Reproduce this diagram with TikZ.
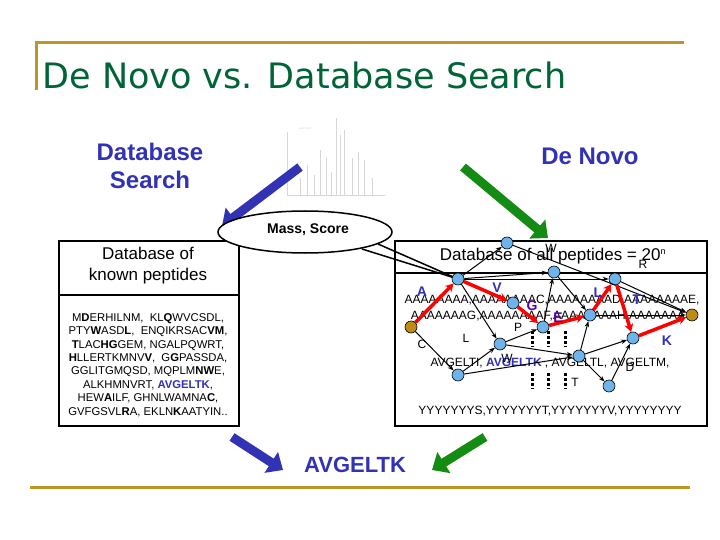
\documentclass[tikz,border=0pt]{standalone}
\usepackage{fontspec}
\setmainfont{Liberation Sans}
\newfontfamily\titlefont{DejaVu Sans}
\usetikzlibrary{arrows.meta}
\definecolor{gold}{RGB}{190,150,40}
\definecolor{tgreen}{RGB}{0,100,55}
\definecolor{dblue}{RGB}{50,50,180}
\definecolor{nblue}{RGB}{110,180,235}
\definecolor{ngold}{RGB}{190,140,20}
\definecolor{agreen}{RGB}{20,140,20}
\definecolor{spec}{RGB}{215,215,215}
\tikzset{
 nd/.style={circle,fill=nblue,draw=black,line width=0.6pt,minimum size=12pt,inner sep=0pt},
 gd/.style={circle,fill=ngold,draw=black,line width=0.6pt,minimum size=12pt,inner sep=0pt},
 bl/.style={draw=black,line width=1pt,-{Stealth[length=6pt]}},
 rd/.style={draw=red,line width=3.5pt,-{Stealth[length=8pt,width=9pt]}},
 lab/.style={font=\fontsize{14}{14}\selectfont\bfseries,text=dblue},
 sm/.style={font=\fontsize{12}{12}\selectfont},
 bigarrow/.style={line width=9pt,-{Triangle[length=14pt,width=24pt]}},
 box/.style={draw=black,line width=2pt,fill=white},
 dots/.style={line width=3pt,dash pattern=on 3pt off 2pt},
}
\begin{document}
\begin{tikzpicture}[x=1pt,y=-1pt]
\useasboundingbox[fill=white] (0,0) rectangle (720,540);
% frame lines
\draw[gold,line width=3pt] (36,90) -- (36,43) -- (684,43);
\draw[gold,line width=3pt] (30,487) -- (690,487);
\node[anchor=west,text=tgreen,font=\titlefont\fontsize{35}{35}\selectfont] (title) at (39,75) {De Novo vs. Database Search};
% headings
\node[text=dblue,font=\fontsize{24}{28}\selectfont\bfseries,align=center] (ds) at (150,166) {Database\\Search};
\node[text=dblue,font=\fontsize{24}{28}\selectfont\bfseries] (dn) at (590,156) {De Novo};
% spectrum
\begin{scope}[spec,line width=0.5pt]
\draw (287,132) -- (287,195) -- (385,195);
\foreach \x/\h in {300/178,307/165,314/175,320/150,326/158,331/172,336/118,340/135,344/130,352/158,358/152,364/160,372/178}
  \draw (\x,195) -- (\x,\h);
\node[font=\fontsize{3}{3}\selectfont] (sp) at (305,129) {spectrum};
\end{scope}
% big arrows
\draw[bigarrow,dblue] (300,167) -- (222,226);
\draw[bigarrow,agreen] (463,167) -- (548,238);
\draw[bigarrow,dblue] (232,437) -- (283,470);
\draw[bigarrow,agreen] (485,437) -- (432,470);
\node[text=dblue,font=\fontsize{22}{22}\selectfont\bfseries] (res) at (355,465) {AVGELTK};
% left box
\node[box,minimum width=180pt,minimum height=185pt,anchor=north west] (lb) at (58,240) {};
\draw[line width=2pt] (58,295) -- (238,295);
\node[font=\fontsize{17}{21}\selectfont,align=center] (lbt) at (148,266) {Database of\\known peptides};
\node[font=\fontsize{11.3}{13.4}\selectfont,align=center] (pep) at (148,365) {%
M\textbf{D}ERHILNM,\ \ KL\textbf{Q}WVCSDL,\\
PTY\textbf{W}ASD\textbf{L},\ \ ENQIKRSAC\textbf{VM},\\
\textbf{T}LAC\textbf{HG}GEM,\ NGALPQWRT,\\
\textbf{H}LLERTKMNV\textbf{V},\ \ G\textbf{G}PASSDA,\\
GGLITGMQSD,\ MQPLM\textbf{NW}E,\\
ALKHMNVRT,\ \textcolor{dblue}{\textbf{AVGELTK}},\\
HEW\textbf{A}ILF,\ GHNLWAMNA\textbf{C},\\
GVFGSVL\textbf{R}A,\ EKLN\textbf{K}AATYIN..};
% right box
\node[box,minimum width=312pt,minimum height=185pt,anchor=north west] (rb) at (394,240) {};
\draw[line width=2pt] (394,273) -- (706,273);
\node[font=\fontsize{17}{17}\selectfont] (rbt) at (553,256) {Database of all peptides = 20\textsuperscript{\fontsize{9}{9}\selectfont n}};
\node[sm] (r1) at (552,300) {AAAAAAAA,AAAAAAAAC,AAAAAAAAD,AAAAAAAAE,};
\node[sm] (r2) at (548,316) {AAAAAAAG,AAAAAAAAF,AAAAAAAAH,AAAAAAA};
\node[sm] (r3) at (550,363) {AVGELTI, \textcolor{dblue}{\textbf{AVGELTK}} , AVGELTL, AVGELTM,};
\node[sm] (r4) at (550,411) {YYYYYYYS,YYYYYYYT,YYYYYYYV,YYYYYYYY};
\foreach \x in {532,548,565}{\draw[dots] (\x,331) -- (\x,347); \draw[dots] (\x,373) -- (\x,389);}
% bubble
\draw[line width=1.5pt] (362,249) -- (458,279);
\draw[line width=1.5pt] (378,244) -- (458,279);
\draw[line width=1.5pt,fill=white] (305,232) ellipse (87 and 21);
\node[font=\fontsize{14}{14}\selectfont\bfseries] (ms) at (308,230) {Mass, Score};
% graph nodes
\node[gd] (s) at (411,327) {};
\node[nd] (n1) at (458,279) {};
\node[nd] (tp) at (507,243) {};
\node[nd] (w) at (554,272) {};
\node[nd] (nl) at (615,279) {};
\node[gd] (e) at (692,315) {};
\node[nd] (nv) at (513,303) {};
\node[nd] (ge) at (543,327) {};
\node[nd] (ne) at (590,315) {};
\node[nd] (nt) at (633,338) {};
\node[nd] (m1) at (500,344) {};
\node[nd] (m2) at (579,356) {};
\node[nd] (bl) at (458,375) {};
\node[nd] (br) at (609,386) {};
% black edges
\draw[bl] (n1) -- (tp);
\draw[bl] (tp) -- (e);
\draw[bl] (n1) -- (w);
\draw[bl] (n1) -- (nl);
\draw[bl] (nl) -- (e);
\draw[bl] (w) -- (ne);
\draw[bl] (ge) -- (w);
\draw[bl] (ne) -- (e);
\draw[bl] (n1) -- (m1);
\draw[bl] (s) -- (bl);
\draw[bl] (bl) -- (m1);
\draw[bl] (m1) -- (ge);
\draw[bl] (m1) -- (m2);
\draw[bl] (bl) -- (m2);
\draw[bl] (m2) -- (ne);
\draw[bl] (m2) -- (nt);
\draw[bl] (m2) -- (br);
\draw[bl] (br) -- (nt);
% red path
\draw[rd] (s) -- (n1);
\draw[rd] (n1) -- (nv);
\draw[rd] (nv) -- (ge);
\draw[rd] (ge) -- (ne);
\draw[rd] (ne) -- (nl);
\draw[rd] (nl) -- (nt);
\draw[rd] (nt) -- (e);
% labels
\node[lab] (la) at (422,292) {A};
\node[lab] (lv) at (497,288) {V};
\node[lab,text=violet!70!blue] (lg) at (532,306) {G};
\node[lab,text=violet!70!blue] (le) at (558,318) {E};
\node[lab] (ll) at (598,293) {L};
\node[lab] (lt) at (637,300) {T};
\node[lab] (lk) at (667,341) {K};
\node[sm] (lc) at (422,344) {C};
\node[sm] (ll2) at (466,338) {L};
\node[sm] (lp) at (518,327) {P};
\node[sm] (lw) at (551,248) {W};
\node[sm] (lr) at (643,264) {R};
\node[sm] (lw2) at (507,358) {W};
\node[sm] (ld) at (630,367) {D};
\node[sm] (lt2) at (575,382) {T};
\end{tikzpicture}
\end{document}
